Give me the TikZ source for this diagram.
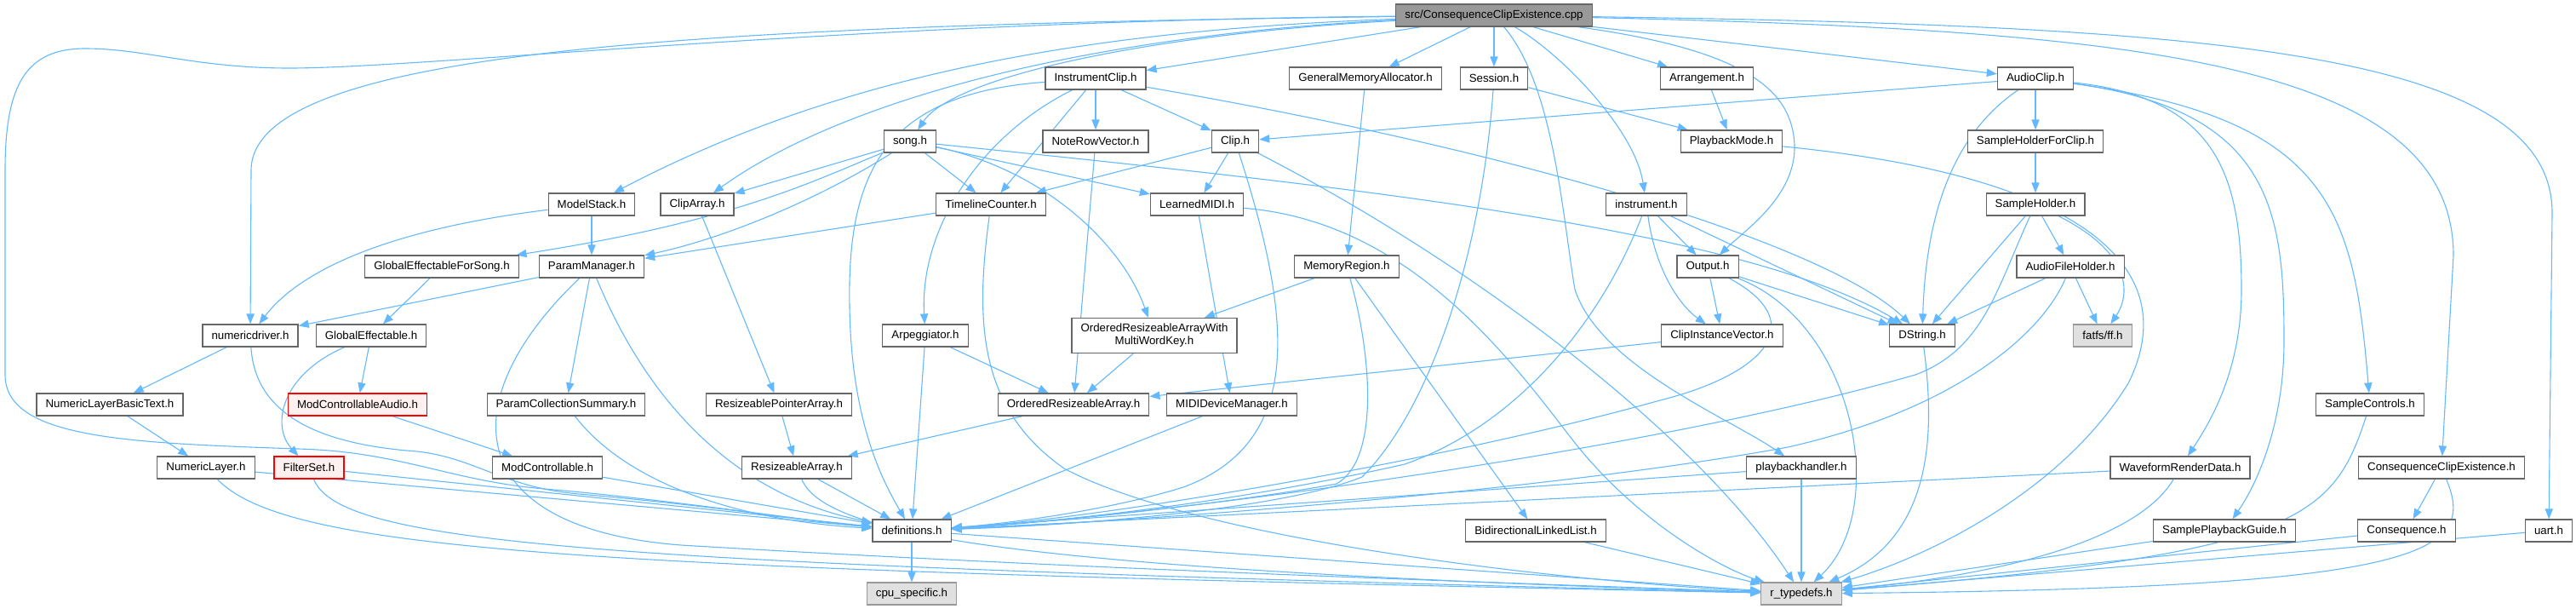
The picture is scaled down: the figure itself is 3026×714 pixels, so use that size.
\documentclass[tikz,border=0pt]{standalone}
\usepackage{fontspec}
\setmainfont{Liberation Sans}
\usetikzlibrary{arrows.meta,backgrounds}
\definecolor{edgeblue}{HTML}{63B8FF}
\definecolor{boxline}{HTML}{666666}
\definecolor{rootgray}{HTML}{999999}
\definecolor{sysline}{HTML}{999999}
\definecolor{sysfill}{HTML}{E0E0E0}
\definecolor{redfill}{HTML}{FFF0F0}
\begin{document}
\begin{tikzpicture}[x=0.5pt,y=-0.5pt,
  nb/.style={draw=boxline,fill=white,line width=0.6pt,inner xsep=5.3pt,inner ysep=0pt,minimum height=13pt,font=\fontsize{6.65}{7.5}\selectfont},
  rootnb/.style={nb,fill=rootgray},
  sysnb/.style={nb,draw=sysline,fill=sysfill},
  rednb/.style={nb,draw=red,fill=redfill},
  dep/.style={draw=edgeblue,line width=0.55pt,-{Triangle[length=6pt,width=4.6pt]}}]
  \useasboundingbox (0,0) rectangle (3026,714);
  \node[rootnb] (root) at (1755,18) {src/ConsequenceClipExistence.cpp};
  \node[nb] (iclip) at (1287,92) {InstrumentClip.h};
  \node[nb] (gma) at (1604,92) {GeneralMemoryAllocator.h};
  \node[nb] (session) at (1755,92) {Session.h};
  \node[nb] (arrange) at (2005,92) {Arrangement.h};
  \node[nb] (aclip) at (2391,92) {AudioClip.h};
  \node[nb] (song) at (1069,166) {song.h};
  \node[nb] (nrv) at (1287,166) {NoteRowVector.h};
  \node[nb] (clip) at (1451,166) {Clip.h};
  \node[nb] (pbmode) at (2034,166) {PlaybackMode.h};
  \node[nb] (shfc) at (2391,166) {SampleHolderForClip.h};
  \node[nb] (mstack) at (695,240) {ModelStack.h};
  \node[nb] (carray) at (819,240) {ClipArray.h};
  \node[nb] (tlc) at (1164,240) {TimelineCounter.h};
  \node[nb] (lmidi) at (1406,240) {LearnedMIDI.h};
  \node[nb] (instr) at (1934,240) {instrument.h};
  \node[nb] (sholder) at (2391,240) {SampleHolder.h};
  \node[nb] (gefs) at (519,313) {GlobalEffectableForSong.h};
  \node[nb] (pman) at (695,313) {ParamManager.h};
  \node[nb] (memreg) at (1582,313) {MemoryRegion.h};
  \node[nb] (output) at (2006,313) {Output.h};
  \node[nb] (afh) at (2432,313) {AudioFileHolder.h};
  \node[nb] (numdrv) at (294,394) {numericdriver.h};
  \node[nb] (geff) at (436,394) {GlobalEffectable.h};
  \node[nb] (arp) at (1087,394) {Arpeggiator.h};
  \node[nb,align=center,minimum height=20.5pt] (oramwk) at (1356,394) {OrderedResizeableArrayWith\\MultiWordKey.h};
  \node[nb] (civ) at (2023,394) {ClipInstanceVector.h};
  \node[nb] (dstring) at (2258,394) {DString.h};
  \node[sysnb] (ff) at (2470,394) {fatfs/ff.h};
  \node[nb] (nlbt) at (129,475) {NumericLayerBasicText.h};
  \node[rednb] (mca) at (420,475) {ModControllableAudio.h};
  \node[nb] (pcs) at (665,475) {ParamCollectionSummary.h};
  \node[nb] (rpa) at (915,475) {ResizeablePointerArray.h};
  \node[nb] (ora) at (1261,475) {OrderedResizeableArray.h};
  \node[nb] (midim) at (1447,475) {MIDIDeviceManager.h};
  \node[nb] (sctrl) at (2784,475) {SampleControls.h};
  \node[nb] (nlayer) at (242,549) {NumericLayer.h};
  \node[rednb] (fset) at (363,549) {FilterSet.h};
  \node[nb] (mc) at (643,549) {ModControllable.h};
  \node[nb] (rarr) at (936,549) {ResizeableArray.h};
  \node[nb] (pbh) at (2116,549) {playbackhandler.h};
  \node[nb] (wrd) at (2561,549) {WaveformRenderData.h};
  \node[nb] (cceh) at (2868,549) {ConsequenceClipExistence.h};
  \node[nb] (defs) at (1071,623) {definitions.h};
  \node[nb] (bll) at (1804,623) {BidirectionalLinkedList.h};
  \node[nb] (spg) at (2613,623) {SamplePlaybackGuide.h};
  \node[nb] (conseq) at (2827,623) {Consequence.h};
  \node[nb] (uart) at (2994,623) {uart.h};
  \node[sysnb] (cpu) at (1071,697) {cpu\_specific.h};
  \node[sysnb] (rtd) at (2116,697) {r\_typedefs.h};
  \begin{pgfonlayer}{background}
  \foreach \a/\b in {root/iclip,root/gma,root/session,root/arrange,root/aclip,song/carray,song/tlc,song/lmidi,
    iclip/clip,iclip/nrv,iclip/tlc,clip/tlc,clip/lmidi,nrv/ora,tlc/pman,lmidi/midim,mstack/pman,carray/rpa,
    gefs/geff,pman/numdrv,pman/pcs,numdrv/nlbt,geff/mca,nlbt/nlayer,nlayer/defs,fset/defs,mca/mc,mc/defs,
    rpa/rarr,rarr/defs,arp/defs,arp/ora,oramwk/ora,ora/rarr,midim/defs,gma/memreg,memreg/oramwk,memreg/bll,
    bll/rtd,session/pbmode,arrange/pbmode,instr/output,instr/dstring,output/civ,output/dstring,civ/ora,
    pbh/defs,pbh/rtd,aclip/clip,aclip/shfc,shfc/sholder,sholder/afh,sholder/dstring,afh/dstring,afh/ff,
    wrd/defs,spg/rtd,cceh/conseq,conseq/rtd,uart/rtd,defs/cpu,defs/rtd}
    \draw[dep] (\a) -- (\b);
  \draw[dep] (root) .. controls (1830,60) and (1920,150) .. (instr);
  \draw[dep] (root) .. controls (1825,100) and (1835,250) .. (1850,340) .. controls (1880,430) and (2030,490) .. (pbh);
  \draw[dep] (root) .. controls (2060,60) and (2105,110) .. (2108,170) .. controls (2110,230) and (2050,270) .. (output);
  \draw[dep] (root) .. controls (1350,40) and (1120,90) .. (song);
  \draw[dep] (root) .. controls (1300,35) and (1000,80) .. (mstack);
  \draw[dep] (root) .. controls (1300,40) and (1000,110) .. (carray);
  \draw[dep] (root) .. controls (800,30) and (295,60) .. (295,200) -- (numdrv);
  \draw[dep] (root) .. controls (1000,25) and (500,80) .. (340,80) .. controls (230,80) and (170,57) .. (100,57) .. controls (30,57) and (6,100) .. (6,200) -- (6,440) .. controls (6,515) and (150,520) .. (350,527) .. controls (470,530) and (530,565) .. (640,574) .. controls (800,588) and (950,612) .. (defs);
  \draw[dep] (root) .. controls (2500,35) and (2882,70) .. (2882,300) -- (cceh);
  \draw[dep] (root) .. controls (2600,30) and (2998,60) .. (2998,250) -- (uart);
  \draw[dep] (song) .. controls (950,215) and (860,260) .. (gefs);
  \draw[dep] (song) .. controls (960,235) and (850,280) .. (pman);
  \draw[dep] (song) .. controls (1230,200) and (1320,290) .. (oramwk);
  \draw[dep] (song) .. controls (1600,220) and (2050,270) .. (dstring);
  \draw[dep] (iclip) .. controls (1150,160) and (1080,270) .. (arp);
  \draw[dep] (iclip) .. controls (1040,110) and (995,200) .. (998,360) .. controls (1000,500) and (1040,570) .. (defs);
  \draw[dep] (iclip) .. controls (1800,180) and (2150,290) .. (dstring);
  \draw[dep] (clip) .. controls (1520,380) and (1530,520) .. (1390,572) .. controls (1300,600) and (1180,615) .. (defs);
  \draw[dep] (clip) .. controls (1750,320) and (2000,520) .. (rtd);
  \draw[dep] (tlc) .. controls (1145,380) and (1150,480) .. (1250,550) .. controls (1400,630) and (1800,680) .. (rtd);
  \draw[dep] (lmidi) .. controls (1660,260) and (1780,430) .. (1850,520) .. controls (1930,620) and (2030,670) .. (rtd);
  \draw[dep] (mstack) .. controls (450,270) and (350,320) .. (numdrv);
  \draw[dep] (pman) .. controls (760,470) and (860,580) .. (defs);
  \draw[dep] (pman) .. controls (530,470) and (540,620) .. (800,640) .. controls (1300,670) and (1800,685) .. (rtd);
  \draw[dep] (numdrv) .. controls (300,490) and (380,522) .. (490,530) .. controls (560,538) and (590,572) .. (680,580) .. controls (850,595) and (950,612) .. (defs);
  \draw[dep] (geff) .. controls (330,440) and (318,500) .. (fset);
  \draw[dep] (nlayer) .. controls (340,650) and (700,668) .. (rtd);
  \draw[dep] (fset) .. controls (400,640) and (700,662) .. (rtd);
  \draw[dep] (pcs) .. controls (730,560) and (850,610) .. (defs);
  \draw[dep] (rarr) .. controls (970,630) and (1200,668) .. (rtd);
  \draw[dep] (memreg) .. controls (1612,420) and (1620,540) .. (1570,568) .. controls (1450,590) and (1250,612) .. (defs);
  \draw[dep] (session) .. controls (1740,300) and (1680,480) .. (1600,560) .. controls (1500,600) and (1250,617) .. (defs);
  \draw[dep] (instr) .. controls (1880,380) and (1780,500) .. (1650,545) .. controls (1450,590) and (1250,612) .. (defs);
  \draw[dep] (output) .. controls (2130,380) and (2070,440) .. (1950,470) .. controls (1700,540) and (1300,608) .. (defs);
  \draw[dep] (output) .. controls (2180,380) and (2220,600) .. (rtd);
  \draw[dep] (instr) .. controls (1945,320) and (1975,360) .. (civ);
  \draw[dep] (dstring) .. controls (2272,500) and (2275,630) .. (rtd);
  \draw[dep] (pbmode) .. controls (2480,210) and (2560,330) .. (2500,450) .. controls (2420,580) and (2260,655) .. (rtd);
  \draw[dep] (aclip) .. controls (2290,160) and (2262,260) .. (dstring);
  \draw[dep] (aclip) .. controls (2600,115) and (2633,200) .. (2633,340) .. controls (2633,430) and (2600,490) .. (wrd);
  \draw[dep] (aclip) .. controls (2670,130) and (2683,250) .. (2683,400) .. controls (2683,500) and (2650,570) .. (spg);
  \draw[dep] (aclip) .. controls (2740,140) and (2765,250) .. (sctrl);
  \draw[dep] (sholder) .. controls (2510,300) and (2500,350) .. (ff);
  \draw[dep] (sholder) .. controls (2345,340) and (2330,410) .. (2250,440) .. controls (1900,540) and (1300,610) .. (defs);
  \draw[dep] (afh) .. controls (2400,390) and (2300,480) .. (2100,525) .. controls (1800,580) and (1300,614) .. (defs);
  \draw[dep] (wrd) .. controls (2520,620) and (2400,670) .. (rtd);
  \draw[dep] (sctrl) .. controls (2740,610) and (2700,650) .. (rtd);
  \draw[dep] (cceh) .. controls (2910,650) and (2850,690) .. (rtd);
  \end{pgfonlayer}
\end{tikzpicture}
\end{document}
